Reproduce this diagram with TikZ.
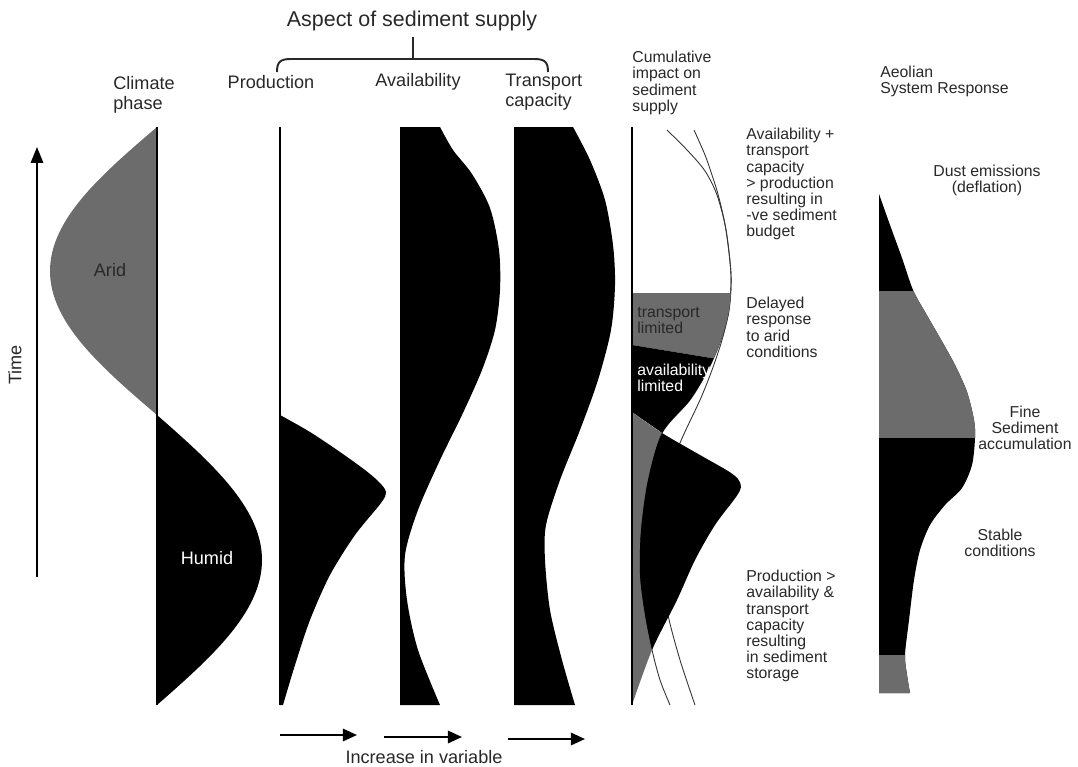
\documentclass[tikz,border=0pt]{standalone}
\usepackage{fontspec}
\setmainfont{Liberation Sans}
\usepackage{tikz}
\usetikzlibrary{arrows.meta,calc}
\definecolor{aridgrey}{RGB}{108,108,108}
\definecolor{inkgrey}{RGB}{40,40,40}

\tikzset{
  headtxt/.style={font=\fontsize{10.3}{11.3}\selectfont, text=inkgrey, align=left, inner sep=0pt},
  titletxt/.style={font=\fontsize{12.2}{13}\selectfont, text=inkgrey, inner sep=0pt},
  notetxt/.style={font=\fontsize{9}{9.2}\selectfont, text=inkgrey, align=left, inner sep=0pt, anchor=north west},
  midtxt/.style={font=\fontsize{9}{9.2}\selectfont, text=inkgrey, align=center, inner sep=0pt},
  axisline/.style={line width=0.6pt, black},
  thincurve/.style={line width=0.5pt, black!80},
  bracepen/.style={line width=1.1pt, inkgrey},
  vararrow/.style={line width=1.2pt, -{Triangle[length=8pt,width=7pt]}},
}

% shared outlines of the cumulative column
\def\availcurve{plot[smooth] coordinates {(667,130) (688,151) (705,171) (717,195) (726,230) (731,275) (729,310) (721,340) (708,370) (690,400) (662,433) (648,480) (641,530) (640,575) (645,615) (652,650) (660,680) (670,705)}}
\def\transcurve{plot[smooth] coordinates {(694,130) (705,155) (713,178) (719,198) (726,230) (731,275) (729,310) (722,340) (712,370) (700,400) (680,443) (668,480) (660,530) (662,575) (668,615) (680,660) (695,705)}}
\def\cumprod{plot[smooth] coordinates {(632,412) (662,433) (700,455) (728,471) (738,479) (741,487) (736,497) (715,525) (695,560) (677,600) (652,650) (632,705)} -- cycle}
\def\aeolianshape{plot[smooth] coordinates {(879,194) (890,225) (902,258) (913,290) (925,312) (940,338) (955,365) (967,392) (974,420) (975,438) (972,465) (962,488) (945,505) (930,525) (920,550) (914,580) (909,620) (905,655) (907,675) (910,693)} -- (879,693) -- cycle}

\begin{document}
\begin{tikzpicture}[x=0.02cm, y=-0.02cm]
    \useasboundingbox (0,0) rectangle (1078,767);

    % headings
    \node[titletxt] (aspect) at (412,21) {Aspect of sediment supply};
    \coordinate (braceL) at (277,72);
    \coordinate (braceR) at (548,72);
    \coordinate (braceM) at (413,59);
    \coordinate (braceT) at (413,37);
    \draw[bracepen] (braceL) .. controls (277,62) and (280,59) .. (291,59) -- (534,59) .. controls (545,59) and (548,62) .. (braceR);
    \draw[bracepen] (braceM) -- (braceT);

    \node[headtxt, anchor=north west] (climlbl) at (113,76) {Climate\\phase};
    \node[headtxt] (prodlbl) at (271,82) {Production};
    \node[headtxt] (availlbl) at (418,82) {Availability};
    \node[headtxt, anchor=north west] (translbl) at (505,74) {Transport\\capacity};
    \node[notetxt] (cumlbl) at (632,51) {Cumulative\\impact on\\sediment\\supply};
    \node[notetxt] (aeollbl) at (880,66) {Aeolian\\System Response};

    % time axis
    \coordinate (time0) at (37,577);
    \coordinate (time1) at (37,147);
    \draw[line width=1.1pt, -{Triangle[length=9pt,width=7pt]}] (time0) -- (time1);
    \node[headtxt, rotate=90] (timelbl) at (15,365) {Time};

    % climate phase
    \fill[aridgrey] (157,127) -- plot[domain=0:180, samples=61, variable=\a] ({157-107*sin(\a)}, {127+1.6*\a}) -- cycle;
    \fill[black] (157,415) -- plot[domain=0:180, samples=61, variable=\a] ({157+105*sin(\a)}, {415+1.6111*\a}) -- cycle;
    \draw[axisline] (157,127) -- (157,705);
    \node[headtxt] (arid) at (110,270) {Arid};
    \node[headtxt, text=white] (humid) at (207,558) {Humid};

    % production
    \fill[black] plot[smooth] coordinates {(280,415) (310,432) (340,452) (365,470) (379,482) (386,492) (381,503) (355,535) (330,575) (310,620) (295,665) (283,705)} -- (280,705) -- cycle;
    \draw[line width=0.9pt] (280,127) -- (280,705);

    % availability
    \fill[black] (400,127) -- plot[smooth] coordinates {(440,127) (453,150) (472,174) (490,208) (499,250) (500,290) (495,330) (482,370) (462,415) (440,460) (418,510) (405,555) (407,600) (418,650) (440,705)} -- (400,705) -- cycle;

    % transport capacity
    \fill[black] (514,127) -- plot[smooth] coordinates {(573,127) (590,160) (605,200) (613,245) (615,285) (611,330) (598,380) (580,430) (560,480) (546,525) (545,560) (550,610) (562,660) (575,705)} -- (514,705) -- cycle;

    % cumulative impact
    \draw[thincurve] \availcurve;
    \draw[thincurve] \transcurve;
    \begin{scope}
        \clip \availcurve -- (632,705) -- (632,127) -- cycle;
        \fill[aridgrey] (632,293) -- (760,293) -- (760,366) -- (632,345) -- cycle;
        \fill[black] (632,345) -- (760,366) -- (760,501) -- (632,412) -- cycle;
        \fill[aridgrey] \cumprod;
    \end{scope}
    \begin{scope}
        \clip \availcurve -- (800,705) -- (800,127) -- cycle;
        \fill[black] \cumprod;
    \end{scope}
    \draw[line width=0.9pt] (632,127) -- (632,705);
    \node[notetxt] (translim) at (637,307) {transport\\limited};
    \node[notetxt, text=white] (availlim) at (637,364) {availability\\limited};

    % notes on the cumulative column
    \node[notetxt] (negnote) at (746,128) {Availability +\\transport\\capacity\\> production\\resulting in\\-ve sediment\\budget};
    \node[notetxt] (delaynote) at (746,297) {Delayed\\response\\to arid\\conditions};
    \node[notetxt] (storenote) at (746,570) {Production >\\availability \&\\transport\\capacity\\resulting\\in sediment\\storage};

    % aeolian response
    \fill[black] \aeolianshape;
    \begin{scope}
        \clip \aeolianshape;
        \fill[aridgrey] (870,291) rectangle (990,438);
        \fill[aridgrey] (870,655) rectangle (990,700);
    \end{scope}
    \node[midtxt] (dustlbl) at (987,180) {Dust emissions\\(deflation)};
    \node[midtxt] (finelbl) at (1025,428) {Fine\\Sediment\\accumulation};
    \node[midtxt] (stablelbl) at (1000,543) {Stable\\conditions};

    % increase in variable
    \coordinate (incA0) at (280,735);
    \coordinate (incA1) at (357,735);
    \coordinate (incB0) at (384,737);
    \coordinate (incB1) at (462,737);
    \coordinate (incC0) at (508,739);
    \coordinate (incC1) at (585,739);
    \draw[vararrow] (incA0) -- (incA1);
    \draw[vararrow] (incB0) -- (incB1);
    \draw[vararrow] (incC0) -- (incC1);
    \node[headtxt] (inclbl) at (424,757) {Increase in variable};
\end{tikzpicture}
\end{document}
